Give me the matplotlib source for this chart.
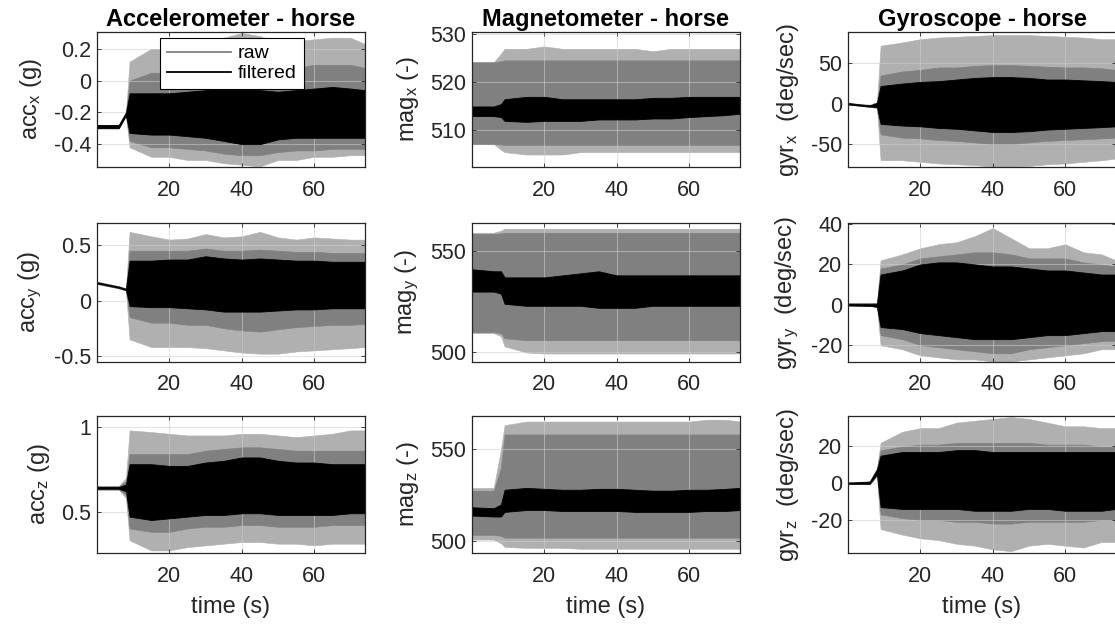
import matplotlib
matplotlib.use("Agg")
import matplotlib.pyplot as plt
from matplotlib.lines import Line2D

plt.rcParams['font.family'] = ['Liberation Sans', 'DejaVu Sans']
plt.rcParams['mathtext.default'] = 'regular'

# ---------------- data (envelopes) ----------------
# time grid (s) at which the signal envelopes were read
T = [0, 6, 8, 9, 15, 20, 25, 30, 35, 40, 45, 50, 55, 60, 65, 70, 74]

# Accelerometer x (g)
ACCX_PEAK_HI = [-0.28, -0.28, -0.20, 0.12, 0.20, 0.20, 0.22, 0.25, 0.27, 0.30, 0.28, 0.24, 0.25, 0.26, 0.27, 0.27, 0.23]
ACCX_RAW_HI = [-0.28, -0.28, -0.20, 0.00, 0.05, 0.05, 0.06, 0.08, 0.10, 0.10, 0.10, 0.08, 0.08, 0.10, 0.10, 0.10, 0.08]
ACCX_FILT_HI = [-0.28, -0.28, -0.20, -0.08, -0.08, -0.08, -0.07, -0.06, -0.05, -0.05, -0.06, -0.07, -0.06, -0.05, -0.04, -0.05, -0.06]
ACCX_FILT_LO = [-0.30, -0.30, -0.22, -0.33, -0.34, -0.34, -0.35, -0.36, -0.38, -0.40, -0.40, -0.37, -0.36, -0.36, -0.36, -0.36, -0.36]
ACCX_RAW_LO = [-0.30, -0.30, -0.22, -0.38, -0.42, -0.42, -0.43, -0.44, -0.46, -0.47, -0.47, -0.45, -0.44, -0.44, -0.43, -0.43, -0.43]
ACCX_PEAK_LO = [-0.30, -0.30, -0.22, -0.42, -0.48, -0.48, -0.50, -0.50, -0.52, -0.53, -0.54, -0.50, -0.50, -0.48, -0.48, -0.47, -0.47]

# Magnetometer x (-)
MAGX_PEAK_HI = [524.2, 524.2, 526, 527, 527, 527.5, 527, 527, 527, 527, 527, 526.5, 527, 527, 527, 527, 527]
MAGX_RAW_HI = [524.2, 524.2, 524.4, 524.6, 524.6, 524.6, 524.6, 524.6, 524.6, 524.6, 524.6, 524.6, 524.6, 524.6, 524.6, 524.6, 524.6]
MAGX_FILT_HI = [515, 515, 515.5, 516.5, 517, 517, 516.5, 516.5, 516.5, 516.5, 516.5, 516.8, 516.8, 517, 517, 517, 517]
MAGX_FILT_LO = [513, 513, 512.8, 512, 511.8, 512, 512, 512, 512.3, 512.3, 512.3, 512.5, 512.5, 512.8, 513, 513.2, 513.5]
MAGX_RAW_LO = [507.2, 507.2, 507.1, 507, 507, 507, 507, 507, 507, 507, 507, 507, 507, 507, 507, 507, 507]
MAGX_PEAK_LO = [507.2, 507.2, 506, 505.5, 505, 505, 505, 505.5, 505.5, 505.5, 505.5, 505.5, 505.5, 505.5, 505.5, 505.5, 505.5]

# Gyroscope x (deg/sec)
GYRX_PEAK_HI = [1, -1.5, 2, 72, 76, 80, 82, 83, 84, 85, 85, 85, 84, 83, 82, 80, 80]
GYRX_RAW_HI = [1, -1.5, 2, 35, 40, 42, 45, 45, 47, 48, 48, 47, 46, 45, 45, 44, 42]
GYRX_FILT_HI = [0.8, -2, 1, 22, 25, 27, 28, 30, 32, 33, 33, 32, 30, 30, 29, 28, 27]
GYRX_FILT_LO = [-0.8, -3.5, -4, -25, -27, -28, -30, -31, -33, -35, -35, -34, -32, -31, -30, -29, -28]
GYRX_RAW_LO = [-1, -4, -5, -38, -42, -43, -45, -46, -48, -50, -50, -48, -46, -45, -44, -43, -42]
GYRX_PEAK_LO = [-1, -4, -5, -70, -70, -72, -74, -75, -76, -78, -78, -77, -75, -74, -72, -70, -68]

# Accelerometer y (g)
ACCY_PEAK_HI = [0.17, 0.13, 0.11, 0.62, 0.58, 0.55, 0.56, 0.60, 0.57, 0.58, 0.62, 0.57, 0.55, 0.57, 0.56, 0.55, 0.55]
ACCY_RAW_HI = [0.17, 0.13, 0.11, 0.45, 0.45, 0.45, 0.45, 0.47, 0.45, 0.45, 0.46, 0.45, 0.44, 0.44, 0.43, 0.43, 0.43]
ACCY_FILT_HI = [0.165, 0.125, 0.105, 0.36, 0.36, 0.37, 0.37, 0.40, 0.38, 0.37, 0.38, 0.37, 0.36, 0.36, 0.35, 0.35, 0.35]
ACCY_FILT_LO = [0.155, 0.115, 0.095, -0.05, -0.06, -0.06, -0.07, -0.08, -0.10, -0.10, -0.10, -0.09, -0.08, -0.08, -0.07, -0.07, -0.07]
ACCY_RAW_LO = [0.15, 0.11, 0.09, -0.15, -0.20, -0.20, -0.22, -0.22, -0.25, -0.27, -0.28, -0.26, -0.24, -0.23, -0.22, -0.22, -0.21]
ACCY_PEAK_LO = [0.15, 0.11, 0.09, -0.35, -0.42, -0.42, -0.42, -0.43, -0.45, -0.47, -0.48, -0.48, -0.46, -0.45, -0.44, -0.43, -0.42]

# Magnetometer y (-)
MAGY_PEAK_HI = [559, 559, 560, 561, 561, 561, 561, 561, 561, 561, 561, 561, 561, 561, 561, 561, 561]
MAGY_RAW_HI = [558.5, 558.5, 558.7, 559, 559, 559, 559, 559, 559, 559, 559, 559, 559, 559, 559, 559, 559]
MAGY_FILT_HI = [541, 540, 540, 537, 537, 537, 538, 539, 540, 538, 538, 538, 538, 538, 538, 538, 538]
MAGY_FILT_LO = [530, 530, 529, 524, 523, 523, 523, 523, 522, 522, 522, 523, 523, 523, 523, 523, 523]
MAGY_RAW_LO = [510, 510, 509.5, 507, 506, 506, 506, 506, 506, 506, 506, 506, 506, 506, 506, 506, 506]
MAGY_PEAK_LO = [509.5, 509.5, 508, 503, 500, 499.5, 499.5, 499.5, 499.5, 499.5, 499.5, 499.5, 499.5, 499.5, 499.5, 499.5, 499.5]

# Gyroscope y (deg/sec)
GYRY_PEAK_HI = [0.8, 0.8, 1, 22, 25, 28, 30, 31, 34, 38, 33, 28, 28, 30, 26, 25, 22]
GYRY_RAW_HI = [0.8, 0.8, 1, 18, 20, 23, 24, 25, 26, 26, 25, 23, 23, 23, 21, 20, 19]
GYRY_FILT_HI = [0.5, 0.5, 0.5, 15, 17, 20, 21, 21, 20, 19, 19, 18, 17, 17, 16, 15, 15]
GYRY_FILT_LO = [-0.3, -0.5, -1, -11, -12, -14, -15, -16, -17, -17, -17, -16, -15, -15, -14, -13, -13]
GYRY_RAW_LO = [-0.3, -0.5, -1, -15, -17, -20, -21, -22, -23, -24, -24, -22, -21, -20, -19, -18, -18]
GYRY_PEAK_LO = [-0.3, -0.5, -1, -20, -22, -25, -26, -27, -27, -28, -28, -27, -26, -25, -24, -22, -22]

# Accelerometer z (g)
ACCZ_PEAK_HI = [0.65, 0.65, 0.70, 0.98, 0.97, 0.96, 0.95, 0.95, 0.95, 0.96, 0.96, 0.95, 0.94, 0.95, 0.96, 0.98, 0.98]
ACCZ_RAW_HI = [0.65, 0.65, 0.68, 0.84, 0.84, 0.84, 0.84, 0.86, 0.87, 0.88, 0.88, 0.87, 0.86, 0.86, 0.86, 0.86, 0.86]
ACCZ_FILT_HI = [0.645, 0.645, 0.66, 0.78, 0.78, 0.77, 0.77, 0.79, 0.80, 0.82, 0.82, 0.80, 0.79, 0.79, 0.78, 0.78, 0.78]
ACCZ_FILT_LO = [0.635, 0.635, 0.62, 0.47, 0.45, 0.46, 0.47, 0.48, 0.48, 0.49, 0.49, 0.48, 0.48, 0.48, 0.48, 0.49, 0.49]
ACCZ_RAW_LO = [0.63, 0.63, 0.60, 0.40, 0.38, 0.38, 0.40, 0.41, 0.41, 0.42, 0.42, 0.41, 0.41, 0.41, 0.42, 0.42, 0.42]
ACCZ_PEAK_LO = [0.63, 0.63, 0.58, 0.33, 0.27, 0.27, 0.29, 0.30, 0.31, 0.32, 0.32, 0.31, 0.31, 0.30, 0.31, 0.31, 0.31]

# Magnetometer z (-)
MAGZ_PEAK_HI = [529, 529, 550, 563, 565, 565, 565, 565, 565, 565, 565, 565, 565, 565, 566, 566, 565]
MAGZ_RAW_HI = [527.5, 527.5, 540, 558, 558, 558, 558, 558, 558, 558, 558, 558, 558, 558, 558, 558, 558]
MAGZ_FILT_HI = [518.5, 518, 520, 528, 529, 528.5, 528, 528, 528.5, 528.5, 528, 527.5, 527.5, 528, 528, 528.5, 529]
MAGZ_FILT_LO = [514, 513.5, 513.5, 516, 517, 517, 516.5, 516.5, 516.5, 516.5, 516, 516, 516, 516, 516.5, 516.5, 517]
MAGZ_RAW_LO = [503.5, 503.5, 503, 502, 502, 502, 502, 502, 502, 502, 502, 502, 502, 502, 502, 502, 502]
MAGZ_PEAK_LO = [501, 501, 499, 497, 496.5, 496.5, 496.5, 496, 496, 496, 496, 496, 496, 496, 496, 496, 496]

# Gyroscope z (deg/sec)
GYRZ_PEAK_HI = [0.5, 1, 8, 22, 28, 30, 30, 33, 34, 35, 36, 35, 33, 31, 31, 30, 30]
GYRZ_RAW_HI = [0.5, 1, 8, 18, 20, 21, 21, 22, 22, 22, 22, 22, 21, 21, 21, 20, 20]
GYRZ_FILT_HI = [0.3, 0.8, 7.5, 15, 17, 17, 17, 18, 18, 17, 17, 17, 17, 17, 17, 17, 17]
GYRZ_FILT_LO = [-0.3, -0.3, 5, -13, -14, -14, -14, -14, -15, -15, -15, -14, -14, -15, -15, -15, -14]
GYRZ_RAW_LO = [-0.5, -0.5, 4, -17, -19, -20, -20, -21, -21, -22, -22, -21, -21, -21, -21, -20, -20]
GYRZ_PEAK_LO = [-0.5, -0.5, 4, -25, -28, -30, -31, -33, -34, -36, -37, -34, -33, -34, -35, -32, -32]

TITLES = ['Accelerometer - horse', 'Magnetometer - horse', 'Gyroscope - horse']
YLABELS = [
    ['acc$_x$ (g)', 'mag$_x$ (-)', 'gyr$_x$  (deg/sec)'],
    ['acc$_y$ (g)', 'mag$_y$ (-)', 'gyr$_y$  (deg/sec)'],
    ['acc$_z$ (g)', 'mag$_z$ (-)', 'gyr$_z$  (deg/sec)'],
]
XTICKS = [20, 40, 60]
YTICKS = [
    [[-0.4, -0.2, 0, 0.2], [510, 520, 530], [-50, 0, 50]],
    [[-0.5, 0, 0.5], [500, 550], [-20, 0, 20, 40]],
    [[0.5, 1], [500, 550], [-20, 0, 20]],
]
YTICKLABELS = [
    [['-0.4', '-0.2', '0', '0.2'], ['510', '520', '530'], ['-50', '0', '50']],
    [['-0.5', '0', '0.5'], ['500', '550'], ['-20', '0', '20', '40']],
    [['0.5', '1'], ['500', '550'], ['-20', '0', '20']],
]
LEGEND_LABELS = ['raw', 'filtered']

# ---------------- style ----------------
PEAK_C = '#b0b0b0'
RAW_C = '#808080'
FILT_C = '#000000'
TXT_C = '#262626'
W, H = 1115, 626

SERIES = [
    [(ACCX_PEAK_HI, ACCX_RAW_HI, ACCX_FILT_HI, ACCX_FILT_LO, ACCX_RAW_LO, ACCX_PEAK_LO),
     (MAGX_PEAK_HI, MAGX_RAW_HI, MAGX_FILT_HI, MAGX_FILT_LO, MAGX_RAW_LO, MAGX_PEAK_LO),
     (GYRX_PEAK_HI, GYRX_RAW_HI, GYRX_FILT_HI, GYRX_FILT_LO, GYRX_RAW_LO, GYRX_PEAK_LO)],
    [(ACCY_PEAK_HI, ACCY_RAW_HI, ACCY_FILT_HI, ACCY_FILT_LO, ACCY_RAW_LO, ACCY_PEAK_LO),
     (MAGY_PEAK_HI, MAGY_RAW_HI, MAGY_FILT_HI, MAGY_FILT_LO, MAGY_RAW_LO, MAGY_PEAK_LO),
     (GYRY_PEAK_HI, GYRY_RAW_HI, GYRY_FILT_HI, GYRY_FILT_LO, GYRY_RAW_LO, GYRY_PEAK_LO)],
    [(ACCZ_PEAK_HI, ACCZ_RAW_HI, ACCZ_FILT_HI, ACCZ_FILT_LO, ACCZ_RAW_LO, ACCZ_PEAK_LO),
     (MAGZ_PEAK_HI, MAGZ_RAW_HI, MAGZ_FILT_HI, MAGZ_FILT_LO, MAGZ_RAW_LO, MAGZ_PEAK_LO),
     (GYRZ_PEAK_HI, GYRZ_RAW_HI, GYRZ_FILT_HI, GYRZ_FILT_LO, GYRZ_RAW_LO, GYRZ_PEAK_LO)],
]
YLIMS = [
    [(-0.544, 0.306), (502.4, 530.5), (-78.4, 88.9)],
    [(-0.555, 0.70), (495.3, 563.8), (-28.3, 40.5)],
    [(0.255, 1.065), (493.7, 568.0), (-38.0, 36.6)],
]

COL_LEFT = [97, 472, 848]
COL_W = 268
ROW_TOP = [32, 223, 416]
ROW_H = [135, 139, 137]

fig = plt.figure(figsize=(W / 100, H / 100), dpi=100)

for r in range(3):
    for c in range(3):
        ax = fig.add_axes([COL_LEFT[c] / W, 1 - (ROW_TOP[r] + ROW_H[r]) / H,
                           COL_W / W, ROW_H[r] / H])
        pk_hi, rw_hi, ft_hi, ft_lo, rw_lo, pk_lo = SERIES[r][c]
        ax.fill_between(T, pk_lo, pk_hi, color=PEAK_C, lw=0.4, zorder=1)
        ax.fill_between(T, rw_lo, rw_hi, color=RAW_C, lw=0.4, zorder=2)
        ax.fill_between(T, ft_lo, ft_hi, color=FILT_C, lw=0.6, zorder=3)
        ax.set_xlim(0, 74)
        ax.set_ylim(*YLIMS[r][c])
        ax.set_xticks(XTICKS)
        ax.set_xticklabels([str(v) for v in XTICKS])
        ax.set_yticks(YTICKS[r][c])
        ax.set_yticklabels(YTICKLABELS[r][c])
        ax.grid(True, color='#cfcfcf', lw=0.8, alpha=0.55)
        ax.set_axisbelow(False)
        for g in ax.get_xgridlines() + ax.get_ygridlines():
            g.set_zorder(4)
        ax.tick_params(direction='in', length=3, width=0.6, labelsize=15.5,
                       colors=TXT_C, top=True, right=True)
        ax.tick_params(axis='x', pad=9)
        ax.tick_params(axis='y', pad=4)
        for s in ax.spines.values():
            s.set_color(TXT_C)
            s.set_linewidth(0.9)
            s.set_zorder(5)
        ax.set_ylabel(YLABELS[r][c], fontsize=17, color=TXT_C, labelpad=7)
        if r == 0:
            ax.set_title(TITLES[c], fontsize=17, fontweight='bold', pad=4)
        if r == 2:
            ax.set_xlabel('time (s)', fontsize=17, color=TXT_C, labelpad=7)
        if r == 0 and c == 0:
            handles = [Line2D([], [], color=RAW_C, lw=1.3),
                       Line2D([], [], color=FILT_C, lw=1.3)]
            leg = ax.legend(handles, LEGEND_LABELS, loc='upper left',
                            bbox_to_anchor=(0.236, 0.955), borderaxespad=0,
                            fontsize=14, handlelength=3.3, handletextpad=0.35,
                            labelspacing=0.12, borderpad=0.35,
                            fancybox=False, framealpha=1, edgecolor='k')
            leg.get_frame().set_linewidth(0.8)
            leg.set_zorder(10)

fig.savefig('out.png', dpi=100)
